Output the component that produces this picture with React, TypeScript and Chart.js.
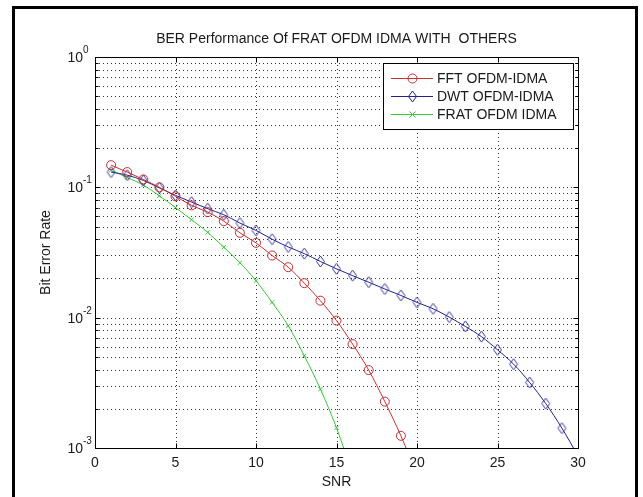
import React, { useEffect, useRef } from 'react';
import { Chart, registerables } from 'chart.js';

Chart.register(...registerables);

// SNR values (dB) at which the BER was simulated
const snr = [1, 2, 3, 4, 5, 6, 7, 8, 9, 10, 11, 12, 13, 14, 15, 16, 17, 18, 19, 20, 21, 22, 23, 24, 25, 26, 27, 28, 29, 30];

// Bit error rate of each scheme
const fftBer = [0.148, 0.131, 0.115, 0.1, 0.0853, 0.0727, 0.0645, 0.055, 0.0448, 0.0375, 0.03, 0.0244, 0.0184, 0.0135, 0.0095, 0.00627, 0.00396, 0.00227, 0.00124, 0.00062];
const dwtBer = [0.131, 0.124, 0.113, 0.099, 0.0868, 0.077, 0.0686, 0.0616, 0.0532, 0.0467, 0.04, 0.0349, 0.031, 0.027, 0.0237, 0.021, 0.0187, 0.0166, 0.0148, 0.0131, 0.0117, 0.0101, 0.00857, 0.00716, 0.00567, 0.0044, 0.00318, 0.00219, 0.00142, 0.00087];
const fratBer = [0.135, 0.119, 0.104, 0.086, 0.07, 0.0564, 0.0451, 0.0347, 0.0264, 0.0192, 0.0131, 0.00867, 0.0051, 0.00283, 0.00143, 0.00063];

const seriesNames = ['FFT OFDM-IDMA', 'DWT OFDM-IDMA', 'FRAT OFDM IDMA'];
const seriesColors = ['#c83232', '#22228a', '#3cc83c'];

const xTickValues = [0, 5, 10, 15, 20, 25, 30];
const yDecadeExponents = [0, -1, -2, -3];
const yMinorMantissas = [2, 3, 4, 5, 6, 7, 8, 9];

const titleText = 'BER Performance Of FRAT OFDM IDMA WITH  OTHERS';
const xLabelText = 'SNR';
const yLabelText = 'Bit Error Rate';

const FONT = '"Liberation Sans", Arial, Helvetica, sans-serif';

const toPoints = (values: number[]) => values.map((y, i) => ({ x: snr[i], y }));

// MATLAB-style tall diamond marker
function makeDiamond(color: string): HTMLCanvasElement {
  const c = document.createElement('canvas');
  c.width = 11;
  c.height = 13;
  const g = c.getContext('2d')!;
  g.strokeStyle = color;
  g.lineWidth = 1;
  g.beginPath();
  g.moveTo(5.5, 1);
  g.lineTo(9.5, 6.5);
  g.lineTo(5.5, 12);
  g.lineTo(1.5, 6.5);
  g.closePath();
  g.stroke();
  return c;
}

const px = (v: number) => Math.round(v) + 0.5;

const matlabAxes = {
  id: 'matlabAxes',
  beforeDraw(chart: any) {
    const ctx: CanvasRenderingContext2D = chart.ctx;
    ctx.save();
    ctx.fillStyle = '#ffffff';
    ctx.fillRect(0, 0, chart.width, chart.height);
    // outer figure frame
    ctx.strokeStyle = '#000000';
    ctx.lineWidth = 3;
    ctx.strokeRect(13.5, 7.5, 623, 520);
    ctx.restore();
  },
  beforeDatasetsDraw(chart: any) {
    const ctx: CanvasRenderingContext2D = chart.ctx;
    const { left, right, top, bottom } = chart.chartArea;
    const xs = chart.scales.x;
    const ys = chart.scales.y;
    ctx.save();
    ctx.strokeStyle = 'rgba(0,0,0,0.8)';
    ctx.lineWidth = 1;
    ctx.setLineDash([1, 3]);
    xTickValues.slice(1, -1).forEach((v) => {
      const x = px(xs.getPixelForValue(v));
      ctx.beginPath();
      ctx.moveTo(x, top);
      ctx.lineTo(x, bottom);
      ctx.stroke();
    });
    yDecadeExponents.forEach((e) => {
      [1, ...yMinorMantissas].forEach((m) => {
        const v = m * Math.pow(10, e);
        if (v <= ys.min * 1.0001 || v >= ys.max * 0.9999) return;
        const y = px(ys.getPixelForValue(v));
        ctx.beginPath();
        ctx.moveTo(left, y);
        ctx.lineTo(right, y);
        ctx.stroke();
      });
    });
    ctx.restore();
  },
  afterDatasetsDraw(chart: any) {
    const ctx: CanvasRenderingContext2D = chart.ctx;
    const { left, right, top, bottom } = chart.chartArea;
    const xs = chart.scales.x;
    const ys = chart.scales.y;
    const L = px(left);
    const R = px(right);
    const T = px(top);
    const B = px(bottom);
    ctx.save();
    ctx.strokeStyle = '#000000';
    ctx.lineWidth = 1;
    ctx.setLineDash([]);
    ctx.strokeRect(L, T, R - L, B - T);

    // tick marks, pointing inward on all four sides
    ctx.beginPath();
    xTickValues.forEach((v) => {
      const x = px(xs.getPixelForValue(v));
      ctx.moveTo(x, B);
      ctx.lineTo(x, B - 5);
      ctx.moveTo(x, T);
      ctx.lineTo(x, T + 5);
    });
    yDecadeExponents.forEach((e) => {
      const y = px(ys.getPixelForValue(Math.pow(10, e)));
      ctx.moveTo(L, y);
      ctx.lineTo(L + 5, y);
      ctx.moveTo(R, y);
      ctx.lineTo(R - 5, y);
      if (e > -3) {
        yMinorMantissas.forEach((m) => {
          const ym = px(ys.getPixelForValue(m * Math.pow(10, e - 1)));
          ctx.moveTo(L, ym);
          ctx.lineTo(L + 3, ym);
          ctx.moveTo(R, ym);
          ctx.lineTo(R - 3, ym);
        });
      }
    });
    ctx.stroke();

    ctx.fillStyle = '#1a1a1a';
    // x tick labels
    ctx.font = `14px ${FONT}`;
    ctx.textAlign = 'center';
    ctx.textBaseline = 'alphabetic';
    xTickValues.forEach((v) => {
      ctx.fillText(String(v), xs.getPixelForValue(v), bottom + 19);
    });

    // y tick labels as 10^n
    yDecadeExponents.forEach((e) => {
      const y = ys.getPixelForValue(Math.pow(10, e));
      ctx.font = `14px ${FONT}`;
      ctx.textAlign = 'right';
      ctx.fillText('10', left - 12, y + 5);
      ctx.font = `10px ${FONT}`;
      ctx.textAlign = 'left';
      ctx.fillText(String(e), left - 12, y - 4);
    });

    // title and axis labels
    ctx.font = `14px ${FONT}`;
    ctx.textAlign = 'center';
    ctx.fillText(titleText, (left + right) / 2, top - 14);
    ctx.fillText(xLabelText, (left + right) / 2, bottom + 38);
    ctx.save();
    ctx.translate(50, (top + bottom) / 2);
    ctx.rotate(-Math.PI / 2);
    ctx.fillText(yLabelText, 0, 0);
    ctx.restore();

    // legend box
    const lx0 = 383.5;
    const lx1 = R - 5;
    const ly0 = T + 6;
    const rowH = 18;
    const ly1 = ly0 + 14 + rowH * 2 + 16;
    ctx.fillStyle = '#ffffff';
    ctx.fillRect(lx0, ly0, lx1 - lx0, ly1 - ly0);
    ctx.strokeStyle = '#000000';
    ctx.strokeRect(lx0, ly0, lx1 - lx0, ly1 - ly0);
    seriesNames.forEach((name, i) => {
      const y = Math.round(ly0 + 14 + rowH * i) + 0.5;
      const color = seriesColors[i];
      ctx.strokeStyle = color;
      ctx.lineWidth = 1;
      ctx.beginPath();
      ctx.moveTo(391, y);
      ctx.lineTo(433, y);
      ctx.stroke();
      const cx = 412.5;
      ctx.beginPath();
      if (i === 0) {
        ctx.arc(cx, y, 4.5, 0, Math.PI * 2);
      } else if (i === 1) {
        ctx.moveTo(cx, y - 5.5);
        ctx.lineTo(cx + 4, y);
        ctx.lineTo(cx, y + 5.5);
        ctx.lineTo(cx - 4, y);
        ctx.closePath();
      } else {
        ctx.moveTo(cx - 3, y - 3);
        ctx.lineTo(cx + 3, y + 3);
        ctx.moveTo(cx + 3, y - 3);
        ctx.lineTo(cx - 3, y + 3);
      }
      ctx.stroke();
      ctx.fillStyle = '#1a1a1a';
      ctx.font = `14px ${FONT}`;
      ctx.textAlign = 'left';
      ctx.textBaseline = 'middle';
      ctx.fillText(name, 437, y + 0.5);
    });
    ctx.restore();
  },
};

export default function App() {
  const canvasRef = useRef<HTMLCanvasElement>(null);

  useEffect(() => {
    const canvas = canvasRef.current;
    if (!canvas) return;
    const chart = new Chart(canvas, {
      type: 'line',
      data: {
        datasets: [
          {
            label: seriesNames[0],
            data: toPoints(fftBer),
            borderColor: seriesColors[0],
            borderWidth: 1,
            pointStyle: 'circle',
            pointRadius: 4.5,
            pointBorderWidth: 1,
            pointBorderColor: seriesColors[0],
            pointBackgroundColor: 'rgba(0,0,0,0)',
            cubicInterpolationMode: 'monotone',
            clip: 0,
          },
          {
            label: seriesNames[1],
            data: toPoints(dwtBer),
            borderColor: seriesColors[1],
            borderWidth: 1,
            pointStyle: makeDiamond('#3434a0'),
            pointRadius: 5,
            cubicInterpolationMode: 'monotone',
            clip: 0,
          },
          {
            label: seriesNames[2],
            data: toPoints(fratBer),
            borderColor: seriesColors[2],
            borderWidth: 1,
            pointStyle: 'crossRot',
            pointRadius: 3,
            pointBorderWidth: 1,
            pointBorderColor: seriesColors[2],
            cubicInterpolationMode: 'monotone',
            clip: 0,
          },
        ] as any,
      },
      options: {
        responsive: false,
        animation: false,
        devicePixelRatio: 1,
        events: [],
        layout: { padding: { left: 95, top: 57, right: 65, bottom: 49 } },
        scales: {
          x: { type: 'linear', min: 0, max: 30, display: false },
          y: { type: 'logarithmic', min: 0.001, max: 1, display: false },
        },
        plugins: {
          legend: { display: false },
          title: { display: false },
          tooltip: { enabled: false },
        },
      },
      plugins: [matlabAxes],
    });
    return () => chart.destroy();
  }, []);

  return (
    <div style={{ position: 'fixed', left: 0, top: 0, width: 643, height: 497, background: '#ffffff' }}>
      <canvas ref={canvasRef} width={643} height={497} style={{ display: 'block' }} />
    </div>
  );
}
